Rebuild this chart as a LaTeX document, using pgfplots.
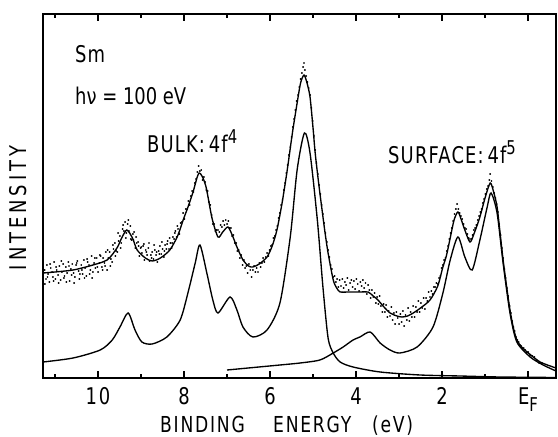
\documentclass[border=0pt]{standalone}
\usepackage{pgfplots}
\pgfplotsset{compat=1.18}
\usepackage{fontspec}
\setmainfont{DejaVu Sans}[FakeStretch=0.78]
\newfontfamily\lab{DejaVu Sans}[FakeStretch=0.78, LetterSpace=8]
\newfontfamily\ylab{DejaVu Sans}[FakeStretch=0.78, LetterSpace=17]
\newfontfamily\ann{DejaVu Sans}[FakeStretch=0.78, LetterSpace=5]

% fitted total spectrum
\pgfplotstableread{
E Y
11.28 105
11.00 106
10.58 108
10.20 112
9.79 118
9.56 130
9.45 140
9.33 148
9.20 140
9.09 128
8.90 120
8.74 117
8.55 120
8.33 128
8.15 142
8.02 158
7.90 172
7.79 186
7.65 205
7.50 193
7.35 160
7.21 141
7.10 146
6.98 151
6.88 143
6.77 131
6.63 118
6.50 112
6.40 111
6.25 114
6.07 121
5.95 132
5.84 148
5.72 175
5.60 208
5.48 245
5.37 275
5.29 295
5.21 303
5.14 295
5.07 281
5.00 250
4.95 225
4.87 195
4.79 168
4.72 145
4.65 125
4.53 98
4.45 90
4.37 86
4.20 86
3.90 86
3.72 86
3.60 82
3.49 78
3.35 71
3.21 65
3.05 62
2.93 61
2.80 62
2.67 65
2.50 70
2.28 78
2.10 92
1.98 111
1.90 122
1.81 140
1.72 158
1.63 166
1.55 158
1.47 148
1.35 136
1.25 145
1.12 161
1.00 180
0.88 195
0.80 186
0.72 171
0.65 145
0.58 118
0.50 92
0.42 68
0.34 50
0.26 38
0.15 31
0.02 26
-0.15 20
-0.28 16
-0.45 13
-0.65 10
}\total

% bulk 4f4 component
\pgfplotstableread{
E Y
11.28 16
10.58 20
9.95 28
9.67 38
9.49 51
9.30 65
9.14 48
8.98 36
8.74 34
8.40 41
8.09 58
7.91 85
7.74 115
7.63 133
7.47 105
7.33 78
7.21 65
6.93 81
6.77 68
6.63 51
6.40 41
6.07 48
5.77 75
5.53 141
5.37 208
5.20 245
5.07 225
4.90 158
4.77 91
4.65 40
4.53 25
4.37 16
4.07 11
3.44 6
2.51 3
1.58 2
0.65 1
-0.65 0.5
}\bulk

% surface 4f5 component
\pgfplotstableread{
E Y
7.00 8
5.77 13
5.30 15
4.84 18
4.53 25
4.30 31
4.07 38
3.91 41
3.67 46
3.44 35
3.21 28
2.98 25
2.58 31
2.21 51
1.98 85
1.81 118
1.63 141
1.47 121
1.30 108
1.12 138
0.95 171
0.86 185
0.72 165
0.58 115
0.42 65
0.26 36
-0.05 21
-0.35 13
-0.65 7
}\surf

% measured points
\pgfplotstableread{
E Y
11.24 108
11.21 99
11.19 113
11.16 104
11.13 96
11.10 110
11.07 106
11.05 101
11.02 116
10.99 99
10.96 108
10.93 103
10.90 112
10.87 98
10.84 106
10.81 114
10.78 102
10.75 111
10.72 105
10.69 116
10.66 97
10.63 109
10.60 114
10.57 105
10.54 101
10.51 113
10.48 117
10.45 107
10.42 104
10.39 113
10.36 104
10.33 118
10.30 110
10.27 102
10.24 116
10.21 113
10.18 108
10.15 122
10.12 106
10.09 115
10.06 110
10.03 120
10.00 106
9.97 115
9.94 122
9.91 111
9.88 120
9.85 115
9.82 126
9.79 108
9.76 120
9.73 126
9.70 119
9.67 116
9.64 129
9.61 135
9.58 127
9.55 126
9.52 137
9.49 142
9.46 135
9.43 149
9.40 147
9.37 156
9.34 145
9.31 154
9.28 147
9.25 152
9.22 138
9.19 144
9.16 146
9.13 130
9.10 135
9.07 136
9.04 122
9.01 130
8.98 125
8.95 132
8.92 118
8.89 128
8.86 123
8.83 130
8.80 117
8.77 123
8.74 126
8.71 119
8.68 128
8.65 123
8.62 116
8.59 127
8.56 132
8.53 124
8.50 129
8.47 121
8.44 133
8.41 129
8.38 137
8.35 129
8.32 135
8.29 130
8.26 141
8.23 139
8.20 147
8.17 141
8.14 149
8.11 144
8.08 155
8.05 156
8.02 165
7.99 159
7.96 169
7.93 169
7.90 177
7.87 173
7.84 182
7.81 187
7.78 186
7.75 195
7.72 199
7.69 206
7.66 212
7.63 207
7.60 208
7.57 198
7.54 201
7.51 196
7.48 188
7.45 187
7.42 176
7.39 173
7.36 163
7.33 154
7.30 154
7.27 147
7.24 148
7.21 148
7.18 146
7.15 153
7.12 151
7.09 157
7.06 153
7.03 158
7.00 154
6.97 157
6.94 150
6.91 150
6.88 142
6.85 143
6.82 135
6.79 135
6.76 127
6.73 128
6.70 120
6.67 123
6.64 113
6.61 118
6.58 110
6.55 112
6.52 105
6.49 114
6.46 108
6.43 101
6.40 108
6.37 112
6.34 106
6.31 110
6.28 106
6.25 115
6.22 111
6.19 115
6.16 120
6.13 116
6.10 121
6.07 125
6.04 122
6.01 128
5.98 132
5.95 133
5.92 140
5.89 142
5.86 148
5.83 152
5.80 160
5.77 165
5.74 173
5.71 178
5.68 188
5.65 195
5.62 205
5.59 213
5.56 223
5.53 231
5.50 241
5.47 251
5.44 259
5.41 268
5.38 277
5.35 283
5.32 291
5.29 299
5.26 305
5.23 311
5.21 315
5.19 308
5.16 302
5.13 296
5.10 290
5.07 283
5.04 270
5.01 257
4.98 242
4.95 228
4.92 215
4.89 204
4.86 193
4.83 184
4.80 173
4.77 164
4.74 155
4.71 145
4.68 136
4.65 128
4.62 121
4.59 113
4.56 109
4.53 101
4.50 102
4.47 96
4.44 99
4.41 91
4.38 98
4.35 92
4.32 99
4.29 90
4.26 96
4.23 93
4.20 100
4.17 88
4.14 95
4.11 98
4.08 91
4.05 97
4.02 89
3.99 99
3.96 94
3.93 87
3.90 96
3.87 92
3.84 98
3.81 90
3.78 95
3.75 84
3.72 93
3.69 88
3.66 80
3.63 88
3.60 81
3.57 85
3.54 75
3.51 81
3.48 74
3.45 82
3.42 72
3.39 66
3.36 74
3.33 66
3.30 73
3.27 61
3.24 67
3.21 62
3.18 71
3.15 58
3.12 65
3.09 54
3.06 66
3.03 60
3.00 54
2.97 64
2.94 56
2.91 67
2.88 52
2.85 63
2.82 58
2.79 70
2.76 57
2.73 66
2.70 61
2.67 72
2.64 61
2.61 71
2.58 66
2.55 77
2.52 66
2.49 75
2.46 70
2.43 80
2.40 69
2.37 80
2.34 77
2.31 86
2.28 81
2.25 87
2.22 84
2.19 91
2.16 91
2.13 95
2.10 94
2.07 100
2.04 102
2.01 110
1.98 113
1.95 118
1.92 120
1.89 127
1.86 132
1.83 139
1.80 145
1.77 150
1.74 157
1.71 164
1.68 169
1.65 174
1.62 169
1.59 165
1.56 162
1.53 159
1.50 154
1.47 150
1.44 149
1.41 144
1.38 140
1.35 139
1.32 139
1.29 143
1.26 148
1.23 150
1.20 153
1.17 158
1.14 162
1.11 166
1.08 169
1.05 175
1.02 179
0.99 184
0.96 189
0.93 192
0.90 198
0.88 204
0.85 197
0.82 191
0.79 185
0.76 180
0.73 174
0.70 166
0.67 154
0.64 143
0.61 130
0.58 120
0.55 109
0.52 100
0.49 90
0.46 82
0.43 72
0.40 65
0.37 57
0.34 51
0.31 47
0.28 41
0.25 38
0.22 36
0.19 33
0.16 32
0.13 30
0.10 30
0.07 28
0.04 26
0.00 26
-0.05 23
-0.10 22
-0.15 21
-0.20 18
-0.26 15
-0.32 15
11.235 94
11.175 101
11.115 114
11.035 97
10.975 111
10.915 95
10.855 117
10.795 100
10.735 96
10.675 112
10.615 103
10.555 95
10.495 115
10.435 99
10.375 108
10.315 100
10.255 119
10.195 104
10.135 100
10.075 120
10.015 111
9.955 123
9.895 108
9.835 112
9.775 128
9.715 112
9.655 133
9.595 122
9.535 145
9.475 130
9.415 153
9.355 140
9.295 158
9.235 139
9.175 138
9.115 141
9.055 132
8.995 131
8.935 134
8.875 126
8.815 135
8.755 120
8.695 133
8.635 126
8.575 124
8.515 136
8.455 127
8.395 134
8.335 140
8.275 135
8.215 145
8.155 152
}\meas

\begin{document}
\begin{tikzpicture}[x=1pt,y=1pt]
\useasboundingbox (0,0) rectangle (558,437);
\begin{axis}[
  at={(43pt,59pt)}, anchor=south west,
  scale only axis, width=513pt, height=364pt,
  x dir=reverse,
  xmin=-0.65, xmax=11.28, ymin=0, ymax=364,
  axis line style={line width=1.2pt},
  tick align=inside,
  xtick={10,8,6,4,2,0},
  xticklabels={10,8,6,4,2,{E\raisebox{-0.55ex}{\fontsize{19}{20}\selectfont F}}},
  minor xtick={11,9,7,5,3,1},
  ytick=\empty,
  major tick length=7pt, minor tick length=4pt,
  every tick/.style={line width=1.1pt, black},
  xticklabel style={font=\lab\fontsize{23}{26}\selectfont, anchor=base, yshift=-27pt},
  clip=true,
]
\addplot[only marks, mark=*, mark size=0.7pt, black] table[x=E,y=Y] {\meas};
\addplot[smooth, tension=0.45, line width=1.35pt, black] table[x=E,y=Y] {\total};
\addplot[smooth, tension=0.45, line width=1.35pt, black] table[x=E,y=Y] {\bulk};
\addplot[smooth, tension=0.45, line width=1.35pt, black] table[x=E,y=Y] {\surf};
\end{axis}
% annotations
\node[anchor=base west, inner sep=0pt, font=\ann\fontsize{23}{26}\selectfont] at (75,374) {Sm};
\node[anchor=base west, inner sep=0pt, font=\fontsize{23}{26}\selectfont] at (75,332) {hν = 100 eV};
\node[anchor=base west, inner sep=0pt, font=\ann\fontsize{23}{26}\selectfont] at (147,284) {BULK:\,4f\textsuperscript{\fontsize{19}{20}\selectfont 4}};
\node[anchor=base west, inner sep=0pt, font=\ann\fontsize{23}{26}\selectfont] at (388,273) {SURFACE:\,4f\textsuperscript{\fontsize{19}{20}\selectfont 5}};
\node[anchor=base, inner sep=0pt, rotate=90, font=\ylab\fontsize{23}{26}\selectfont] at (27,229) {INTENSITY};
\node[anchor=base west, inner sep=0pt, font=\lab\fontsize{22}{24}\selectfont] at (160,4) {BINDING};
\node[anchor=base west, inner sep=0pt, font=\lab\fontsize{22}{24}\selectfont] at (273,4) {ENERGY};
\node[anchor=base west, inner sep=0pt, font=\lab\fontsize{22}{24}\selectfont] at (372,4) {(eV)};
\end{tikzpicture}
\end{document}
